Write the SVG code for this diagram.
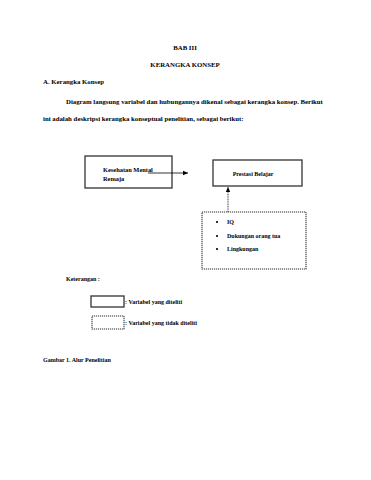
<svg xmlns="http://www.w3.org/2000/svg" width="371" height="480" viewBox="0 0 371 480">
<style>
text{font-family:"Liberation Serif","Times New Roman",serif;font-weight:bold;fill:#000;font-size:6.8px}
.s{font-size:6px}
.m{font-size:6.4px}
.box{fill:#fff;stroke:#333;stroke-width:1.3}
.dbox{fill:#fff;stroke:#333;stroke-width:1.1;stroke-dasharray:1.2 0.8}
</style>
<defs>
<marker id="ah" markerWidth="6" markerHeight="6" refX="5" refY="3" orient="auto" markerUnits="userSpaceOnUse"><path d="M0,0.8 L5,3 L0,5.2 Z" fill="#000"/></marker>
</defs>
<rect width="371" height="480" fill="#fff"/>
<text x="185" y="50" text-anchor="middle">BAB III</text>
<text x="185" y="67" text-anchor="middle">KERANGKA KONSEP</text>
<text x="43" y="84">A.  Kerangka Konsep</text>
<text x="66" y="104">Diagram langsung variabel dan hubungannya dikenal sebagai kerangka konsep. Berikut</text>
<text x="43" y="121">ini adalah deskripsi kerangka konseptual penelitian, sebagai berikut:</text>
<g id="node-kesehatan">
<rect class="box" x="85" y="156" width="87" height="32"/>
<text class="m" x="103" y="172">Kesehatan Mental</text>
<text class="m" x="103" y="181">Remaja</text>
</g>
<g id="node-prestasi">
<rect class="box" x="213" y="160" width="89" height="26"/>
<text class="s" x="253" y="176" text-anchor="middle">Prestasi Belajar</text>
</g>
<g id="node-faktor">
<rect class="dbox" x="202" y="212" width="104" height="57"/>
<circle cx="217" cy="222" r="1.1" fill="#000"/>
<circle cx="217" cy="236" r="1.1" fill="#000"/>
<circle cx="217" cy="249" r="1.1" fill="#000"/>
<text class="s" x="227" y="224">IQ</text>
<text class="s" x="227" y="238">Dukungan orang tua</text>
<text class="s" x="227" y="251">Lingkungan</text>
</g>
<g id="connectors">
<line x1="148" y1="173" x2="188" y2="173" stroke="#000" stroke-width="0.8" marker-end="url(#ah)"/>
<line x1="228" y1="212" x2="228" y2="187" stroke="#333" stroke-width="1" stroke-dasharray="1 0.7" marker-end="url(#ah)"/>
</g>
<text x="66" y="281" class="s">Keterangan :</text>
<g id="legend-solid">
<rect class="box" x="91" y="296" width="33" height="11"/>
<text class="s" x="125" y="304">: Variabel yang diteliti</text>
</g>
<g id="legend-dotted">
<rect class="dbox" x="92" y="316" width="32" height="13"/>
<text class="s" x="125" y="325">: Variabel yang tidak diteliti</text>
</g>
<text class="s" x="43" y="362">Gambar 1. Alur Penelitian</text>
</svg>
